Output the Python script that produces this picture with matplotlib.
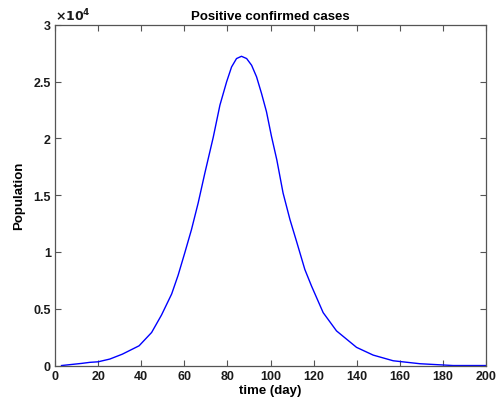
import matplotlib
matplotlib.use("Agg")
import matplotlib.pyplot as plt
import numpy as np

# values
days = [3, 12.4, 16.1, 20, 25.4, 31.2, 39, 44.8, 49.4, 54.1, 57.1, 60.2, 63.3,
        66.4, 69.5, 73.4, 76.5, 79.6, 81.9, 84.2, 86.5, 88.9, 91.2, 93.5, 95.8,
        98.1, 100.4, 102.9, 105.8, 109, 112.1, 115.9, 119, 124.4, 130.6,
        139.9, 147.6, 156.9, 169.3, 184.7, 200]
cases = [0, 190, 280, 330, 570, 1000, 1740, 2910, 4450, 6300, 7950, 9930,
         11970, 14310, 16940, 20100, 22930, 24980, 26290, 27030, 27230, 27030,
         26440, 25420, 23960, 22350, 20200, 18110, 15190, 12850, 10900, 8460,
         7000, 4660, 3050, 1600, 920, 420, 160, 0, 0]

yticks = [0, 5000, 10000, 15000, 20000, 25000, 30000]
ytick_labels = ['0', '0.5', '1', '1.5', '2', '2.5', '3']
xticks = list(range(0, 201, 20))

plt.rcParams['font.family'] = ['Liberation Sans', 'DejaVu Sans']
plt.rcParams['font.weight'] = 'bold'

fig = plt.figure(figsize=(4.96, 4.10), dpi=100)
ax = fig.add_axes([0.111, 0.106, 0.869, 0.831])

ax.plot(days, cases, color='#0000ff', lw=1.0)

ax.set_xlim(0, 200)
ax.set_ylim(0, 30000)
ax.set_xticks(xticks)
ax.set_yticks(yticks)
ax.set_yticklabels(ytick_labels)

axcol = '#555555'
for s in ax.spines.values():
    s.set_color(axcol)
    s.set_linewidth(0.9)
ax.tick_params(direction='in', length=4, width=0.8, color=axcol,
               top=True, right=True, labelsize=9, labelcolor='#1a1a1a', pad=3)
for lab in ax.get_xticklabels() + ax.get_yticklabels():
    lab.set_fontweight('bold')

ax.text(0.0, 1.005, r'$\times10^4$', transform=ax.transAxes, fontsize=9,
        ha='left', va='bottom', color='#1a1a1a')

ax.set_title('Positive confirmed cases', fontsize=9.5, fontweight='bold', pad=4)
ax.set_xlabel('time (day)', fontsize=9.5, fontweight='bold', labelpad=2)
ax.set_ylabel('Population', fontsize=9.5, fontweight='bold', labelpad=6)

fig.savefig('out.png', dpi=100)
